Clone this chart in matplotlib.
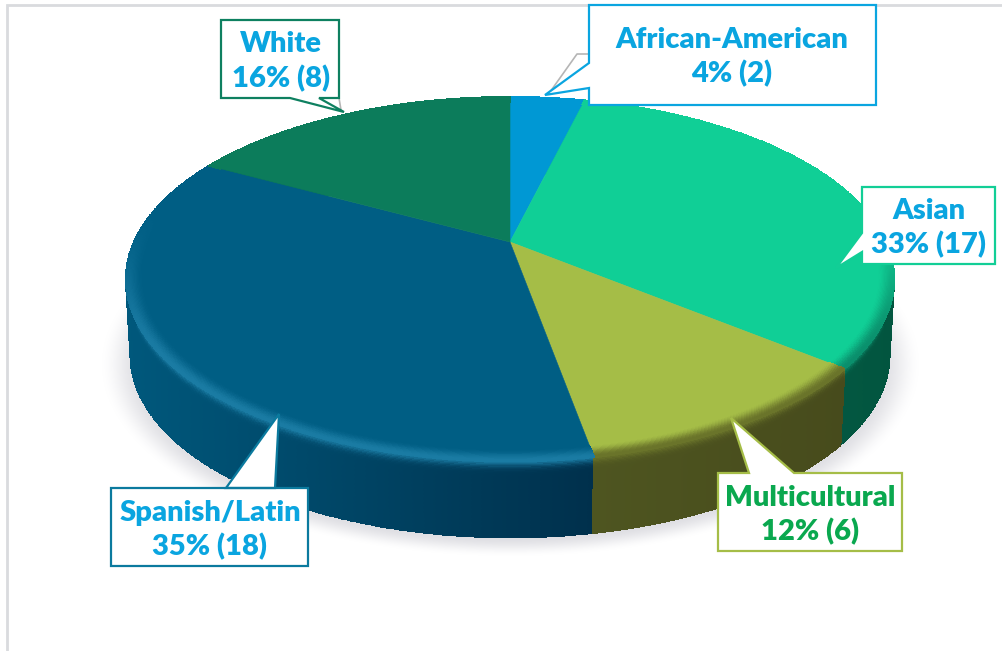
import numpy as np
import matplotlib
matplotlib.use('Agg')
import matplotlib.pyplot as plt
from matplotlib.patches import Polygon
from matplotlib.colors import to_rgb

# dati del grafico
categorie = ['African-American', 'Asian', 'Multicultural', 'Spanish/Latin', 'White']
conteggi = [2, 17, 6, 18, 8]
percentuali = [4, 33, 12, 35, 16]

# colori: faccia superiore, bordo luminoso, fianco sinistro, fianco destro
col_top = ['#0098D4', '#10CF96', '#A5BD47', '#005E84', '#0C7C5B']
col_luce = ['#0080b0', '#0a8f6c', '#6a742a', '#1a7ba3', '#0a6a4e']
col_sx = ['#006a90', '#07644c', '#4e5520', '#00587c', '#085a42']
col_dx = ['#006a90', '#02553f', '#474b1c', '#00304c', '#085a42']

# geometria della torta in prospettiva
cx, cy = 510, 242
kx, ky = 376.0, 174.6
persp = 0.204
skew = 0.12
skew2 = 0.035
spessore = 76


def angolo(frazione):
    t = 2 * np.pi * np.asarray(frazione)
    return t - skew * np.abs(np.sin(t / 2)) + skew2 * np.sin(t)


def bordo(fraz, r=1.0, dz=0.0):
    t = angolo(fraz)
    u = r * np.sin(t)
    v = r * np.cos(t)
    d = 1 + persp * v
    restr = 1 - 0.012 * dz / spessore
    return cx + restr * kx * u / d, cy - ky * v / d + dz, v


def smooth(x):
    x = np.clip(x, 0, 1)
    return x * x * (3 - 2 * x)


def peso_fronte(v):
    # il bordo luminoso si vede solo verso chi guarda
    return 1 - smooth((v + 0.6) / 0.8)


fig = plt.figure(figsize=(10.03, 6.51), dpi=100)
ax = fig.add_axes([0, 0, 1, 1])
ax.set_xlim(0, 1003)
ax.set_ylim(651, 0)
ax.axis('off')

# cornice del grafico
ax.plot([7, 7, 1003], [651, 5, 5], color='#d9dbde', lw=2, zorder=1, solid_joinstyle='miter')

# ombra sotto la torta
yy, xx = np.mgrid[0:651, 0:1003]
dist = np.sqrt(((xx - 510) / 384.0) ** 2 + ((yy - 364) / 180.0) ** 2)
alpha = 0.55 * (1 - smooth((dist - 0.96) / 0.11))
ombra = np.zeros((651, 1003, 4))
ombra[..., :3] = to_rgb('#c4c4cc')
ombra[..., 3] = alpha
ax.imshow(ombra, extent=(0, 1003, 651, 0), aspect='auto', zorder=2, interpolation='bilinear')
ax.set_xlim(0, 1003)
ax.set_ylim(651, 0)

frazioni = np.cumsum([0] + conteggi) / sum(conteggi)
ordine = [0, 4, 1, 3, 2]

# fianchi delle fette
for i in ordine:
    f = np.linspace(frazioni[i], frazioni[i + 1], 500)
    z = np.linspace(0, spessore, 60)
    X = np.zeros((len(z), len(f)))
    Y = np.zeros((len(z), len(f)))
    for j, dz in enumerate(z):
        X[j], Y[j], v = bordo(f, 1.0, dz)
    xm = 0.25 * (X[:-1, :-1] + X[1:, :-1] + X[:-1, 1:] + X[1:, 1:])
    zm = 0.5 * (z[:-1] + z[1:])
    px = (xm - xm.min()) / (xm.max() - xm.min())
    luce = np.exp(-(zm / 6.0) ** 2)[:, None]
    vm = 0.5 * (v[:-1] + v[1:])
    peso = peso_fronte(vm)[None, :]
    sx = np.array(to_rgb(col_sx[i]))
    dx = np.array(to_rgb(col_dx[i]))
    ll = np.array(to_rgb(col_luce[i]))
    C = sx[None, None, :] * (1 - px[..., None]) + dx[None, None, :] * px[..., None]
    w = (luce * peso)[..., None]
    C = C * (1 - w) + ll[None, None, :] * w
    ax.pcolormesh(X, Y, C, shading='flat', zorder=3, antialiased=False, edgecolors='face', linewidth=0.3)

# facce superiori
for i in range(len(conteggi)):
    f = np.linspace(frazioni[i], frazioni[i + 1], 200)
    x, y, _ = bordo(f)
    punti = np.column_stack([np.r_[cx, x], np.r_[cy, y]])
    ax.add_patch(Polygon(punti, closed=True, fc=col_top[i], ec=col_top[i], lw=0.4, zorder=4))

# sfumatura verso il bordo, solo sul lato anteriore
for i in range(len(conteggi)):
    f = np.linspace(frazioni[i], frazioni[i + 1], 500)
    rr = np.linspace(0.96, 1.0, 14)
    X = np.zeros((len(rr), len(f)))
    Y = np.zeros((len(rr), len(f)))
    for j, r in enumerate(rr):
        X[j], Y[j], v = bordo(f, r)
    rm = 0.5 * (rr[:-1] + rr[1:])
    vm = 0.5 * (v[:-1] + v[1:])
    peso = peso_fronte(vm)[None, :]
    t = smooth((rm - 0.96) / 0.04)[:, None]
    w = (t * peso)[..., None]
    top = np.array(to_rgb(col_top[i]))
    ll = np.array(to_rgb(col_luce[i]))
    C = top[None, None, :] * (1 - w) + ll[None, None, :] * w
    ax.pcolormesh(X, Y, C, shading='flat', zorder=5, antialiased=False, edgecolors='face', linewidth=0.3)

# filo grigio delle etichette
ax.plot([550, 577, 589], [92, 54, 54], color='#b5b5b5', lw=1.2, zorder=6)
ax.plot([339, 341], [98, 110], color='#b5b5b5', lw=1.2, zorder=6)

# riquadri: x0, x1, y0, y1, coda (inizio, punta, fine), colori, posizione del testo
box_cat = [
    (589, 876, 5, 105, [(589, 63), (545, 95), (589, 88)], '#0AA5E0', '#0AA5E0', 732, 40, 74),
    (862, 995, 187, 264, [(862, 233), (836, 268), (862, 252)], '#12CE96', '#0AA5E0', 929, 211, 245),
    (718, 902, 473, 551, [(794, 473), (731, 418), (749, 473)], '#A5BD47', '#0AA84F', 810, 498, 532),
    (111, 308, 488, 566, [(226, 488), (279, 414), (275, 488)], '#0B7A9E', '#0AA5E0', 210, 513, 547),
    (221, 339, 20, 98, [(319, 98), (344, 112), (290, 98)], '#0E8060', '#0AA5E0', 281, 44, 79),
]

for nome, pc, n, b in zip(categorie, percentuali, conteggi, box_cat):
    x0, x1, y0, y1, coda, c_bordo, c_testo, tx, ty1, ty2 = b
    # la coda parte dal lato del riquadro su cui si appoggia
    if coda[0][1] == y0:
        pts = [(x0, y0), coda[2], coda[1], coda[0], (x1, y0), (x1, y1), (x0, y1)]
    elif coda[0][1] == y1:
        pts = [(x0, y0), (x1, y0), (x1, y1), coda[0], coda[1], coda[2], (x0, y1)]
    else:
        pts = [(x0, y0), (x1, y0), (x1, y1), (x0, y1), coda[2], coda[1], coda[0]]
    ax.add_patch(Polygon(pts, closed=True, fc='white', ec=c_bordo, lw=1.6, zorder=7, joinstyle='miter'))
    ax.text(tx, ty1, nome, color=c_testo, fontsize=21, fontweight='heavy', family='Lato',
            ha='center', va='center', zorder=8)
    ax.text(tx, ty2, f'{pc}% ({n})', color=c_testo, fontsize=21, fontweight='heavy', family='Lato',
            ha='center', va='center', zorder=8)

fig.savefig('out.png', dpi=100)
